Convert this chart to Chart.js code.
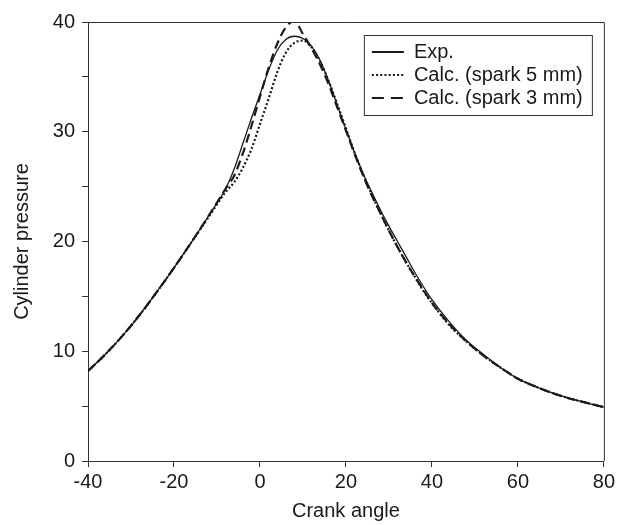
<!DOCTYPE html>
<html>
<head>
<meta charset="utf-8">
<script src="https://cdn.jsdelivr.net/npm/chart.js@4.4.1/dist/chart.umd.min.js"></script>
<style>
  html, body { margin: 0; padding: 0; background: #fff; }
</style>
</head>
<body>
<canvas id="myChart" width="618" height="525"></canvas>
<script>
// data block
const crankAngle = [-40, -36, -32, -28, -24, -20, -16, -12, -8,
  -6, -4, -2, 0, 2, 4, 6, 8, 10, 12, 14, 16, 18, 20, 22, 24, 26, 28, 30, 32, 34, 36, 38, 40,
  44, 48, 52, 56, 60, 64, 68, 72, 76, 80];
const expPressure = [8.2, 9.7, 11.4, 13.3, 15.4, 17.6, 19.9, 22.3, 24.8,
  26.6, 28.9, 31.2, 33.4, 35.6, 37.4, 38.4, 38.7, 38.5, 37.8, 36.5, 34.6, 32.4, 30.2, 28.1, 26.2, 24.5, 22.9, 21.4, 20.0, 18.6, 17.2, 15.9, 14.7,
  12.7, 11.0, 9.7, 8.5, 7.5, 6.8, 6.2, 5.7, 5.3, 4.9];
const spark5Pressure = [8.2, 9.7, 11.4, 13.3, 15.4, 17.6, 19.9, 22.2, 24.5,
  25.4, 26.7, 28.4, 30.7, 33.0, 35.4, 37.2, 38.1, 38.3, 37.7, 36.4, 34.6, 32.5, 30.3, 28.1, 26.1, 24.3, 22.6, 21.0, 19.5, 18.1, 16.8, 15.5, 14.4,
  12.4, 10.9, 9.6, 8.5, 7.5, 6.8, 6.2, 5.7, 5.3, 4.9];
const spark3Pressure = [8.2, 9.7, 11.4, 13.3, 15.4, 17.6, 19.9, 22.3, 24.8,
  26.0, 28.0, 30.5, 33.2, 35.8, 38.0, 39.5, 40.1, 38.9, 37.6, 36.1, 34.3, 32.2, 30.1, 28.0, 26.0, 24.2, 22.6, 21.0, 19.5, 18.1, 16.8, 15.6, 14.4,
  12.5, 10.9, 9.6, 8.5, 7.5, 6.8, 6.2, 5.7, 5.3, 4.9];
const seriesNames = ['Exp.', 'Calc. (spark 5 mm)', 'Calc. (spark 3 mm)'];
const xTickLabels = [-40, -20, 0, 20, 40, 60, 80];
const yTickLabels = [0, 10, 20, 30, 40];

const ink = '#1a1a1a';
Chart.defaults.font.family = '"Liberation Sans", Arial, sans-serif';
Chart.defaults.color = ink;

function points(values) {
  return crankAngle.map((a, i) => ({ x: a, y: values[i] }));
}

// legend sample dashes (longer than in the plot, like the original)
const legendDash = [[], [2, 2.2], [12, 7]];

// frame round the plot + legend placed inside it
const framePlugin = {
  id: 'frame',
  afterLayout(chart) {
    const lg = chart.legend;
    const ca = chart.chartArea;
    lg.left = ca.right - 235;
    lg.top = ca.top + 17;
    lg.right = lg.left + 228;
    lg.bottom = lg.top + 80;
  },
  afterDraw(chart) {
    const ctx = chart.ctx;
    const ca = chart.chartArea;
    ctx.save();
    ctx.strokeStyle = '#333';
    ctx.lineWidth = 1;
    ctx.beginPath();
    ctx.moveTo(ca.left, ca.top + 0.5);
    ctx.lineTo(ca.right + 0.5, ca.top + 0.5);
    ctx.lineTo(ca.right + 0.5, ca.bottom);
    ctx.stroke();
    // legend box
    ctx.strokeRect(ca.right - 239.5, ca.top + 13.5, 228, 80);
    ctx.restore();
  }
};

const config = {
  type: 'line',
  data: {
    datasets: [{
      label: seriesNames[0],
      data: points(expPressure),
      borderColor: ink,
      borderWidth: 1.3
    }, {
      label: seriesNames[1],
      data: points(spark5Pressure),
      borderColor: ink,
      borderWidth: 2.2,
      borderDash: [2, 2.2]
    }, {
      label: seriesNames[2],
      data: points(spark3Pressure),
      borderColor: ink,
      borderWidth: 2.2,
      borderDash: [9, 5]
    }]
  },
  options: {
    responsive: false,
    animation: false,
    cubicInterpolationMode: 'monotone',
    elements: { point: { radius: 0 } },
    layout: { padding: { left: 0, right: 13, top: 22, bottom: 0 } },
    plugins: {
      tooltip: { enabled: false },
      legend: {
        position: 'chartArea',
        align: 'start',
        fullSize: false,
        labels: {
          usePointStyle: true,
          pointStyle: 'line',
          pointStyleWidth: 32,
          padding: 3,
          color: ink,
          font: { size: 20 },
          generateLabels(chart) {
            const items = Chart.defaults.plugins.legend.labels.generateLabels(chart);
            items.forEach((it) => {
              const ds = chart.data.datasets[it.datasetIndex];
              it.lineDash = legendDash[it.datasetIndex];
              it.lineWidth = 2;
              it.strokeStyle = ds.borderColor;
              it.pointStyle = 'line';
            });
            return items;
          }
        }
      }
    },
    scales: {
      x: {
        type: 'linear',
        min: xTickLabels[0],
        max: xTickLabels[xTickLabels.length - 1],
        afterFit: (s) => { s.height = 64; },
        ticks: { stepSize: 20, padding: 3, font: { size: 20 }, color: ink, maxRotation: 0 },
        grid: { drawOnChartArea: false, tickLength: 6, color: '#333' },
        border: { color: '#333' },
        title: { display: true, text: 'Crank angle', font: { size: 20 }, color: ink, padding: { top: 0, bottom: 2 } }
      },
      y: {
        min: yTickLabels[0],
        max: yTickLabels[yTickLabels.length - 1],
        afterFit: (s) => { s.width = 88; },
        ticks: {
          stepSize: 5,
          padding: 7,
          font: { size: 20 },
          color: ink,
          callback: (v) => yTickLabels.includes(v) ? v : ''
        },
        grid: { drawOnChartArea: false, tickLength: 6, color: '#333' },
        border: { color: '#333' },
        title: { display: true, text: 'Cylinder pressure', font: { size: 20 }, color: ink, padding: { top: 10, bottom: 0 } }
      }
    }
  },
  plugins: [framePlugin]
};

const myChart = new Chart(document.getElementById('myChart'), config);
</script>
</body>
</html>
